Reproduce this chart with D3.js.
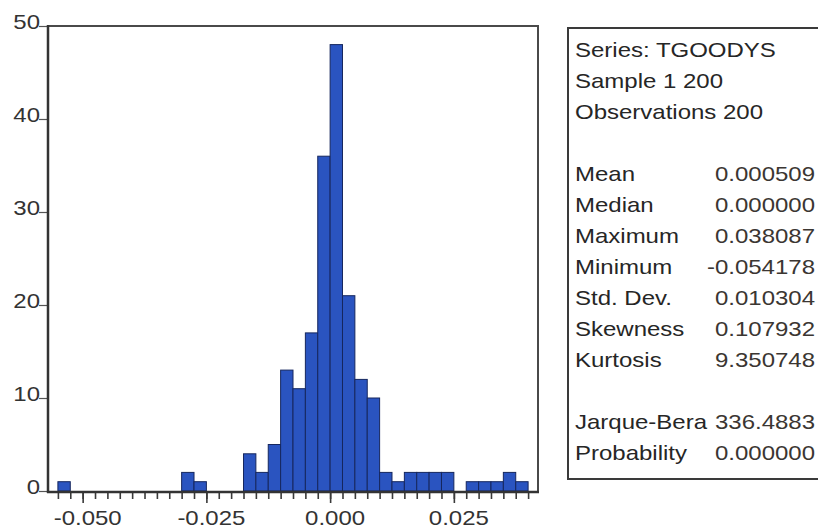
<!DOCTYPE html>
<html>
<head>
<meta charset="utf-8">
<script src="https://cdn.jsdelivr.net/npm/d3@7"></script>
<style>
  html, body { margin: 0; padding: 0; background: #ffffff; }
  svg { display: block; }
  text { font-family: "Liberation Sans", Arial, sans-serif; }
</style>
</head>
<body>
<svg id="chart" width="818" height="531"></svg>
<script>
// Histogram of TGOODYS returns, bins of width 0.0025 starting at -0.055
const binStart = -0.055;
const binWidth = 0.0025;
const binCounts = [
  1, 0, 0, 0, 0, 0, 0, 0, 0, 0,
  2, 1, 0, 0, 0, 4, 2, 5, 13, 11,
  17, 36, 48, 21, 12, 10, 2, 1, 2, 2,
  2, 2, 0, 1, 1, 1, 2, 1
];

const xMajorTicks = [-0.05, -0.025, 0, 0.025];
const xTickLabels = ["-0.050", "-0.025", "0.000", "0.025"];
const yTicks = [0, 10, 20, 30, 40, 50];
const yTickLabels = ["0", "10", "20", "30", "40", "50"];

// Descriptive statistics panel
const headerLines = ["Series: TGOODYS", "Sample 1 200", "Observations 200"];
const statNames = ["Mean", "Median", "Maximum", "Minimum", "Std. Dev.", "Skewness", "Kurtosis"];
const statValues = ["0.000509", "0.000000", "0.038087", "-0.054178", "0.010304", "0.107932", "9.350748"];
const testNames = ["Jarque-Bera", "Probability"];
const testValues = ["336.4883", "0.000000"];

const svg = d3.select("#chart");
const plot = { left: 48, right: 538, top: 26, bottom: 491 };
const textColor = "#333333";
const fontSize = 20;
const stretch = 1.2;

const x = d3.scaleLinear().domain([-0.057, 0.042]).range([plot.left, plot.right]);
const y = d3.scaleLinear().domain([0, 50]).range([plot.bottom, plot.top]);

const bins = binCounts.map((c, i) => ({
  x0: binStart + i * binWidth,
  x1: binStart + (i + 1) * binWidth,
  count: c
}));

// bars
svg.append("g")
  .selectAll("rect")
  .data(bins.filter(d => d.count > 0))
  .join("rect")
  .attr("x", d => x(d.x0))
  .attr("y", d => y(d.count))
  .attr("width", d => x(d.x1) - x(d.x0))
  .attr("height", d => y(0) - y(d.count))
  .attr("fill", "#2a54c0")
  .attr("stroke", "#16275e")
  .attr("stroke-width", 1);

// x axis: minor ticks every bin edge, longer ticks at the labelled values
const minorTicks = d3.range(0, binCounts.length + 1).map(i => binStart + i * binWidth);
const xMinor = svg.append("g")
  .attr("transform", `translate(0,${plot.bottom + 1})`)
  .call(d3.axisBottom(x).tickValues(minorTicks).tickSize(7).tickFormat(""));
const xMajor = svg.append("g")
  .attr("transform", `translate(0,${plot.bottom + 1})`)
  .call(d3.axisBottom(x).tickValues(xMajorTicks).tickSize(11).tickFormat(""));
[xMinor, xMajor].forEach(g => {
  g.select(".domain").remove();
  g.selectAll(".tick line").attr("stroke", "#3a3a3a").attr("stroke-width", 1.6);
});

svg.append("g")
  .selectAll("text")
  .data(xMajorTicks)
  .join("text")
  .attr("transform", d => `translate(${x(d) + 5},525) scale(${stretch},1)`)
  .attr("text-anchor", "middle")
  .attr("font-size", fontSize)
  .attr("fill", textColor)
  .text((d, i) => xTickLabels[i]);

// y axis ticks and labels
const yAxis = svg.append("g")
  .attr("transform", `translate(${plot.left},0)`)
  .call(d3.axisLeft(y).tickValues(yTicks).tickSize(9).tickFormat(""));
yAxis.select(".domain").remove();
yAxis.selectAll(".tick line").attr("stroke", "#555555").attr("stroke-width", 1.2);

svg.append("g")
  .selectAll("text")
  .data(yTicks)
  .join("text")
  .attr("transform", d => `translate(40,${y(d) + 3}) scale(${stretch},1)`)
  .attr("text-anchor", "end")
  .attr("font-size", fontSize)
  .attr("fill", textColor)
  .text((d, i) => yTickLabels[i]);

// plot frame
const frame = svg.append("g").attr("fill", "none");
frame.append("line")
  .attr("x1", plot.left).attr("x2", plot.right + 1)
  .attr("y1", plot.top).attr("y2", plot.top)
  .attr("stroke", "#4a4a4a").attr("stroke-width", 2);
frame.append("line")
  .attr("x1", plot.right).attr("x2", plot.right)
  .attr("y1", plot.top).attr("y2", plot.bottom)
  .attr("stroke", "#4a4a4a").attr("stroke-width", 2);
frame.append("line")
  .attr("x1", plot.left).attr("x2", plot.left)
  .attr("y1", plot.top - 1).attr("y2", plot.bottom + 2)
  .attr("stroke", "#333333").attr("stroke-width", 2.5);
frame.append("line")
  .attr("x1", plot.left - 1).attr("x2", plot.right + 1)
  .attr("y1", plot.bottom + 1).attr("y2", plot.bottom + 1)
  .attr("stroke", "#333333").attr("stroke-width", 2.5);

// statistics panel
const panel = { left: 568, top: 28, bottom: 479, textX: 575, valueX: 815, firstLine: 57, lineStep: 31 };
svg.append("rect")
  .attr("x", panel.left).attr("y", panel.top)
  .attr("width", 260).attr("height", panel.bottom - panel.top)
  .attr("fill", "#ffffff")
  .attr("stroke", "#3a3a3a").attr("stroke-width", 2);

const rows = [];
headerLines.forEach(t => rows.push({ name: t, value: "" }));
rows.push(null);
statNames.forEach((t, i) => rows.push({ name: t, value: statValues[i] }));
rows.push(null);
testNames.forEach((t, i) => rows.push({ name: t, value: testValues[i] }));

const rowData = rows.map((r, i) => r && ({ ...r, yPos: panel.firstLine + i * panel.lineStep })).filter(Boolean);

const panelText = svg.append("g").attr("font-size", fontSize);
panelText.selectAll("text.name")
  .data(rowData)
  .join("text")
  .attr("class", "name")
  .attr("transform", d => `translate(${panel.textX},${d.yPos}) scale(${stretch},1)`)
  .attr("fill", "#262626")
  .text(d => d.name);
panelText.selectAll("text.value")
  .data(rowData.filter(d => d.value))
  .join("text")
  .attr("class", "value")
  .attr("transform", d => `translate(${panel.valueX},${d.yPos}) scale(${stretch},1)`)
  .attr("text-anchor", "end")
  .attr("fill", "#3b3632")
  .text(d => d.value);
</script>
</body>
</html>
